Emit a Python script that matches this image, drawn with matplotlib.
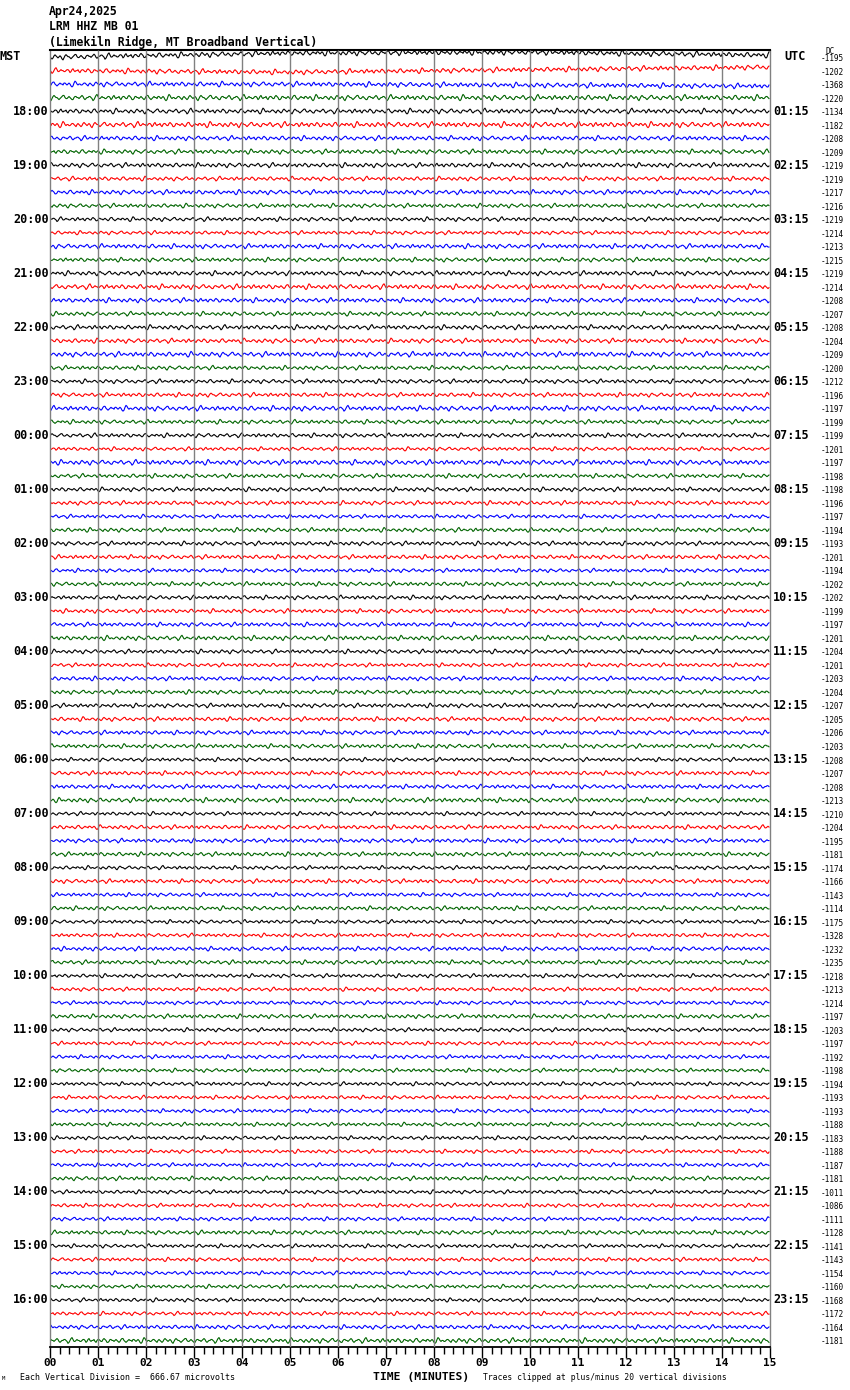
'''Helicorder style plot for LRM HHZ MB 01, Apr 24 2025'''
import numpy as np
import matplotlib.pyplot as plt

HEADER = ['Apr24,2025', 'LRM HHZ MB 01', '(Limekiln Ridge, MT Broadband Vertical)']

# one label every 4 traces (each trace is 15 minutes)
MST_LABELS = ['MST', '18:00', '19:00', '20:00', '21:00', '22:00', '23:00',
              '00:00', '01:00', '02:00', '03:00', '04:00', '05:00', '06:00',
              '07:00', '08:00', '09:00', '10:00', '11:00', '12:00', '13:00',
              '14:00', '15:00', '16:00']
UTC_LABELS = ['UTC', '01:15', '02:15', '03:15', '04:15', '05:15', '06:15',
              '07:15', '08:15', '09:15', '10:15', '11:15', '12:15', '13:15',
              '14:15', '15:15', '16:15', '17:15', '18:15', '19:15', '20:15',
              '21:15', '22:15', '23:15']

DC_VALUES = [-1195, -1202, -1368, -1220, -1134, -1182, -1208, -1209,
             -1219, -1219, -1217, -1216, -1219, -1214, -1213, -1215,
             -1219, -1214, -1208, -1207, -1208, -1204, -1209, -1200,
             -1212, -1196, -1197, -1199, -1199, -1201, -1197, -1198,
             -1198, -1196, -1197, -1194, -1193, -1201, -1194, -1202,
             -1202, -1199, -1197, -1201, -1204, -1201, -1203, -1204,
             -1207, -1205, -1206, -1203, -1208, -1207, -1208, -1213,
             -1210, -1204, -1195, -1181, -1174, -1166, -1143, -1114,
             -1175, -1328, -1232, -1235, -1218, -1213, -1214, -1197,
             -1203, -1197, -1192, -1198, -1194, -1193, -1193, -1188,
             -1183, -1188, -1187, -1181, -1011, -1086, -1111, -1128,
             -1141, -1143, -1154, -1160, -1168, -1172, -1164, -1181]

# rough wiggle size of each trace, relative
TRACE_AMP = [1.3, 1.2, 1.2, 1.3, 1.2, 1.3, 1.1, 1.1,
             1.1, 1.0, 1.1, 1.0, 1.0, 0.9, 1.1, 1.0,
             1.1, 1.2, 1.1, 1.0, 1.1, 1.1, 1.2, 1.0,
             1.0, 1.0, 1.2, 1.0, 1.0, 0.9, 1.2, 1.0,
             1.0, 1.0, 0.9, 1.0, 1.0, 1.0, 0.9, 1.0,
             1.0, 1.0, 1.0, 1.1, 1.0, 0.9, 1.0, 1.0,
             1.0, 1.0, 1.0, 1.0, 0.9, 1.0, 1.0, 1.1,
             0.9, 1.0, 1.0, 1.0, 0.9, 1.0, 0.9, 1.0,
             0.9, 0.9, 1.0, 1.0, 0.9, 0.9, 0.9, 1.0,
             0.9, 0.9, 0.9, 0.9, 0.9, 0.9, 0.9, 0.9,
             0.9, 0.9, 0.9, 1.0, 0.9, 0.9, 0.9, 1.0,
             0.9, 0.9, 0.9, 0.9, 0.9, 0.9, 1.0, 1.2]

# wiggle shape in pixels, read roughly off a quiet stretch of trace
WIGGLE_PX = [0, 1, 2, 1, -1, -2, -1, 0, 1, 0, -1, 0, 2, 3, 1, -1, -2, -1, 0, 0,
             1, 2, 1, 0, -1, -2, -2, 0, 1, 1, 0, -1, 0, 1, 2, 2, 0, -1, -1, 0,
             0, 1, 0, -1, -2, -1, 1, 2, 1, 0, 0, -1, -1, 0, 1, 3, 2, 0, -2, -3,
             -1, 1, 1, 0, -1, 0, 0, 1, 1, 0, -1, -1, 0, 2, 1, -1, -2, 0, 1, 0,
             0, -1, 1, 2, 0, -1, -1, 0, 1, 1, -1, -2, -1, 0, 2, 2, 1, -1, -1, 0,
             0, 1, 0, -1, 0, 1, 2, 1, -1, -2, -2, 0, 1, 2, 1, 0, -1, 0, 0, 1,
             -1, -1, 0, 1, 0, -1, 0, 2, 3, 2, -1, -3, -2, 0, 1, 0, 0, 1, 1, 0,
             -1, -1, 0, 1, 2, 0, -1]

# slow baseline drift of the first traces (pixels, at 0, 5, 10, 15 min)
DRIFT_KNOTS = [0, 5, 10, 15]
DRIFT_PX = {0: [0, -4, -5, -2], 1: [0, 1.5, -1, -3.5], 2: [0, 0, 1, 2]}

TRACE_COLORS = ['black', 'red', 'blue', '#006400']
MINUTE_LABELS = ['00', '01', '02', '03', '04', '05', '06', '07',
                 '08', '09', '10', '11', '12', '13', '14', '15']

W, H = 850, 1390
ROW_PX = 13.51
TOP_PX = 57
MONO = 'DejaVu Sans Mono'
PT = 0.72  # points per pixel at dpi 100


def fxy(x, y):
    '''pixel position -> figure fraction'''
    return x / W, 1 - y / H


def make_plot():
    fig = plt.figure(figsize=(W / 100, H / 100), dpi=100, facecolor='white')
    ax = fig.add_axes([50 / W, 43 / H, 720 / W, 1297 / H])

    n_samp = 720
    t = np.arange(n_samp) / 48.0
    pattern = np.array(WIGGLE_PX, dtype=float)
    reps = n_samp // len(pattern) + 2
    long_pat = np.tile(pattern, reps)

    for i, dc in enumerate(DC_VALUES):
        start = (i * 53) % len(pattern)
        wig = long_pat[start:start + n_samp] * TRACE_AMP[i] * 0.8
        if i in DRIFT_PX:
            wig = wig + np.interp(t, DRIFT_KNOTS, DRIFT_PX[i])
        ax.plot(t, i + wig / ROW_PX, color=TRACE_COLORS[i % 4],
                lw=0.8, zorder=2)

    ax.set_xlim(0, 15)
    ax.set_ylim(95 + (1347 - (TOP_PX + 95 * ROW_PX)) / ROW_PX,
                -(TOP_PX - 50) / ROW_PX)
    ax.vlines(np.arange(1, 15), *ax.get_ylim(), color='#808080', lw=1, zorder=3)

    ax.spines['top'].set_color('black')
    ax.spines['top'].set_linewidth(1.5)
    ax.spines['bottom'].set_color('black')
    ax.spines['bottom'].set_linewidth(1.3)
    for s in ['left', 'right']:
        ax.spines[s].set_color('#808080')
        ax.spines[s].set_linewidth(1)

    ax.set_yticks([])
    ax.set_xticks(np.arange(16))
    ax.set_xticks(np.arange(0, 15.01, 0.2), minor=True)
    ax.set_xticklabels(MINUTE_LABELS, family=MONO, fontweight='bold', fontsize=8)
    ax.tick_params(axis='x', which='major', length=11 * PT, width=1, pad=0)
    ax.tick_params(axis='x', which='minor', length=7 * PT, width=1)

    for k, line in enumerate(HEADER):
        fig.text(*fxy(49, 12 + k * 15), line, family=MONO, fontweight='bold',
                 fontsize=8.3, ha='left', va='center')

    for k in range(24):
        y = TOP_PX + 4 * k * ROW_PX
        if k == 0:
            fig.text(*fxy(0, y), MST_LABELS[k], family=MONO, fontweight='bold',
                     fontsize=8.5, ha='left', va='center')
            fig.text(*fxy(795, y), UTC_LABELS[k], family=MONO, fontweight='bold',
                     fontsize=8.5, ha='center', va='center')
        else:
            fig.text(*fxy(49, y), MST_LABELS[k], family=MONO, fontweight='bold',
                     fontsize=8.5, ha='right', va='center')
            fig.text(*fxy(773, y), UTC_LABELS[k], family=MONO, fontweight='bold',
                     fontsize=8.5, ha='left', va='center')

    for i, dc in enumerate(DC_VALUES):
        fig.text(*fxy(821, TOP_PX + 1.5 + i * ROW_PX), str(dc), family=MONO,
                 fontsize=5.6, ha='left', va='center')
    fig.text(*fxy(826, 52), 'DC', family=MONO, fontsize=5.6, ha='left', va='center')

    fig.text(*fxy(20, 1377), 'Each Vertical Division =  666.67 microvolts',
             family=MONO, fontsize=6, ha='left', va='center')
    fig.text(*fxy(373, 1377.5), 'TIME (MINUTES)', family=MONO, fontweight='bold',
             fontsize=8.2, ha='left', va='center')
    fig.text(*fxy(483, 1377), 'Traces clipped at plus/minus 20 vertical divisions',
             family=MONO, fontsize=5.8, ha='left', va='center')
    fig.text(*fxy(2, 1378), 'M', family=MONO, fontsize=4, ha='left', va='center')

    fig.savefig('out.png', dpi=100, facecolor='white')


if __name__ == '__main__':
    make_plot()
